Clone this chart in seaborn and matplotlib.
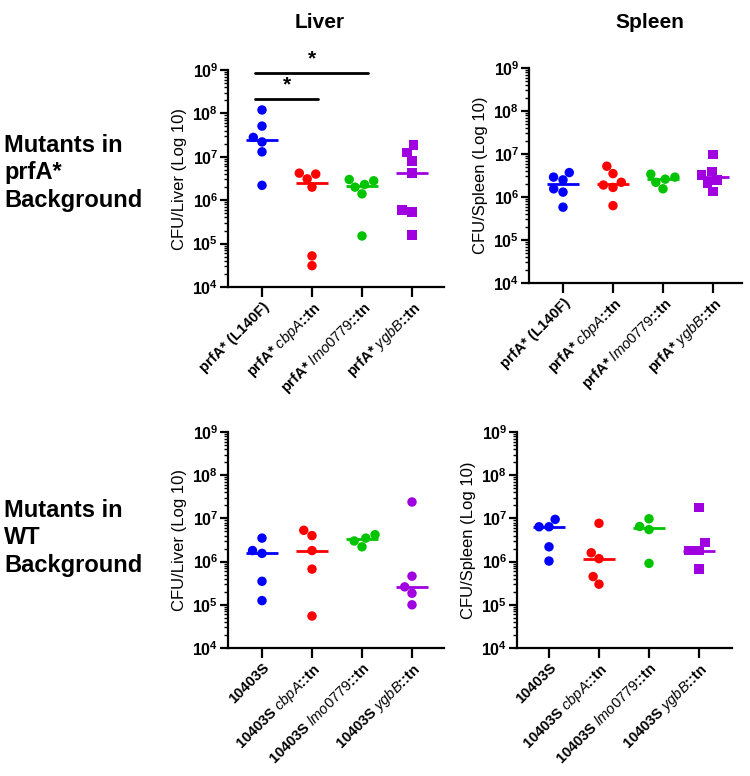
import numpy as np
import pandas as pd
import matplotlib
matplotlib.use("Agg")
import matplotlib.pyplot as plt
import seaborn as sns

# ---------------- data ----------------
prfA_labels = ["prfA* (L140F)", "prfA* $\\mathit{cbpA}$::tn",
               "prfA* $\\mathit{lmo0779}$::tn", "prfA* $\\mathit{ygbB}$::tn"]
wt_labels = ["10403S", "10403S $\\mathit{cbpA}$::tn",
             "10403S $\\mathit{lmo0779}$::tn", "10403S $\\mathit{ygbB}$::tn"]

liver_prfA_wt = [1.2e8, 5.1e7, 2.8e7, 2.2e7, 1.3e7, 2.2e6]
liver_prfA_cbpA = [4.2e6, 4.0e6, 3.1e6, 2.0e6, 5.2e4, 3.1e4]
liver_prfA_lmo = [3.0e6, 2.8e6, 2.3e6, 2.0e6, 1.4e6, 1.5e5]
liver_prfA_ygbB = [1.85e7, 1.26e7, 8.1e6, 4.3e6, 5.9e5, 5.4e5, 1.55e5]

spleen_prfA_wt = [3.7e6, 2.9e6, 2.5e6, 1.55e6, 1.3e6, 5.8e5]
spleen_prfA_cbpA = [5.2e6, 3.5e6, 2.2e6, 1.9e6, 1.67e6, 6.3e5]
spleen_prfA_lmo = [3.4e6, 2.9e6, 2.6e6, 2.2e6, 1.55e6]
spleen_prfA_ygbB = [9.8e6, 3.9e6, 3.2e6, 2.5e6, 2.1e6, 1.35e6]

liver_wt_wt = [3.5e6, 1.8e6, 1.55e6, 3.5e5, 1.25e5]
liver_wt_cbpA = [5.3e6, 4.0e6, 1.8e6, 6.7e5, 5.5e4]
liver_wt_lmo = [4.2e6, 3.5e6, 3.0e6, 2.2e6]
liver_wt_ygbB = [2.4e7, 4.6e5, 2.6e5, 1.85e5, 1.0e5]

spleen_wt_wt = [9.5e6, 6.4e6, 6.4e6, 2.2e6, 1.03e6]
spleen_wt_cbpA = [7.7e6, 1.6e6, 1.17e6, 4.5e5, 3.0e5]
spleen_wt_lmo = [9.8e6, 6.5e6, 5.5e6, 9.1e5]
spleen_wt_ygbB = [1.78e7, 2.75e6, 1.8e6, 1.8e6, 6.8e5]

colors = ["#0000ff", "#ff0000", "#00c400", "#a000e0"]

sig_pairs = [(0, 1, "*"), (0, 2, "*")]
sig_heights = [2.2e8, 8.7e8]

ytick_vals = [1e4, 1e5, 1e6, 1e7, 1e8, 1e9]
ytick_text = [r"$\mathbf{10^{4}}$", r"$\mathbf{10^{5}}$", r"$\mathbf{10^{6}}$",
              r"$\mathbf{10^{7}}$", r"$\mathbf{10^{8}}$", r"$\mathbf{10^{9}}$"]

# ---------------- style ----------------
sns.set_theme(style="ticks")
plt.rcParams["font.family"] = ["Liberation Sans", "DejaVu Sans"]
plt.rcParams["mathtext.fontset"] = "custom"
plt.rcParams["mathtext.rm"] = "Liberation Sans"
plt.rcParams["mathtext.it"] = "Liberation Sans:italic"
plt.rcParams["mathtext.bf"] = "Liberation Sans:bold"
for k in ["text.color", "axes.labelcolor", "xtick.color", "ytick.color", "axes.edgecolor"]:
    plt.rcParams[k] = "black"

fig = plt.figure(figsize=(7.5, 7.76), dpi=100)
W, H = 750, 776


def px_axes(l, r, t, b):
    return fig.add_axes([l / W, 1 - b / H, (r - l) / W, (b - t) / H])


panels = [
    dict(box=(228, 444, 70, 287), xlim=(-0.68, 3.64), labels=prfA_labels,
         groups=[liver_prfA_wt, liver_prfA_cbpA, liver_prfA_lmo, liver_prfA_ygbB],
         square=True, ylabel="CFU/Liver (Log 10)", sig=True),
    dict(box=(529, 742, 68, 283), xlim=(-0.68, 3.58), labels=prfA_labels,
         groups=[spleen_prfA_wt, spleen_prfA_cbpA, spleen_prfA_lmo, spleen_prfA_ygbB],
         square=True, ylabel="CFU/Spleen (Log 10)", sig=False),
    dict(box=(228, 444, 432, 648), xlim=(-0.68, 3.64), labels=wt_labels,
         groups=[liver_wt_wt, liver_wt_cbpA, liver_wt_lmo, liver_wt_ygbB],
         square=False, ylabel="CFU/Liver (Log 10)", sig=False),
    dict(box=(517, 732, 432, 648), xlim=(-0.64, 3.66), labels=wt_labels,
         groups=[spleen_wt_wt, spleen_wt_cbpA, spleen_wt_lmo, spleen_wt_ygbB],
         square=True, ylabel="CFU/Spleen (Log 10)", sig=False),
]

for p in panels:
    ax = px_axes(*p["box"])
    ax.set_yscale("log")
    labels = p["labels"]
    rows = []
    for lab, vals in zip(labels, p["groups"]):
        for v in vals:
            rows.append((lab, v))
    df = pd.DataFrame(rows, columns=["group", "cfu"])
    circ = df[df["group"] != labels[3]] if p["square"] else df
    sns.swarmplot(data=circ, x="group", y="cfu", hue="group", order=labels,
                  hue_order=labels, palette=colors, size=6.8, marker="o",
                  linewidth=0, legend=False, ax=ax)
    if p["square"]:
        sq = df[df["group"] == labels[3]]
        sns.swarmplot(data=sq, x="group", y="cfu", hue="group", order=labels,
                      hue_order=labels, palette=colors, size=7.0, marker="s",
                      linewidth=0, legend=False, ax=ax)
    for i, vals in enumerate(p["groups"]):
        ax.hlines(np.median(vals), i - 0.32, i + 0.32, color=colors[i], lw=2, zorder=4)

    ax.set_xlim(*p["xlim"])
    ax.set_ylim(1e4, 1e9)
    ax.set_yticks(ytick_vals)
    ax.set_yticklabels(ytick_text, fontsize=11.5)
    ax.yaxis.set_minor_locator(matplotlib.ticker.LogLocator(base=10, subs=np.arange(2, 10), numticks=20))
    ax.yaxis.set_minor_formatter(matplotlib.ticker.NullFormatter())
    ax.set_xticks(range(4))
    ax.set_xticklabels(labels, rotation=45, ha="right", rotation_mode="anchor",
                       fontsize=10.5, fontweight="bold")
    ax.set_xlabel("")
    ax.set_ylabel(p["ylabel"], fontsize=12, labelpad=4)
    for s in ["top", "right"]:
        ax.spines[s].set_visible(False)
    for s in ["left", "bottom"]:
        ax.spines[s].set_linewidth(1.6)
        ax.spines[s].set_color("black")
    ax.tick_params(axis="y", which="major", length=6, width=1.6, pad=1, colors="black")
    ax.tick_params(axis="y", which="minor", length=3, width=1.0, colors="black")
    ax.tick_params(axis="x", which="major", length=7, width=1.6, pad=2, colors="black")
    ax.set_facecolor("white")

    if p["sig"]:
        for (a, b, mark), h in zip(sig_pairs, sig_heights):
            ax.plot([a - 0.14, b + 0.12], [h, h], color="black", lw=2, clip_on=False)
            ax.text((a - 0.14 + b + 0.12) / 2, h * 1.25, mark, ha="center", va="bottom",
                    fontsize=15, fontweight="bold", clip_on=False)

fig.text(320 / W, 1 - 22 / H, "Liver", ha="center", va="center", fontsize=15, fontweight="bold")
fig.text(650 / W, 1 - 22 / H, "Spleen", ha="center", va="center", fontsize=15, fontweight="bold")
fig.text(4 / W, 1 - 173 / H, "Mutants in\nprfA*\nBackground", ha="left", va="center",
         fontsize=17, fontweight="bold", linespacing=1.25)
fig.text(4 / W, 1 - 538 / H, "Mutants in\nWT\nBackground", ha="left", va="center",
         fontsize=17, fontweight="bold", linespacing=1.25)

fig.savefig("out.png", dpi=100, facecolor="white")
